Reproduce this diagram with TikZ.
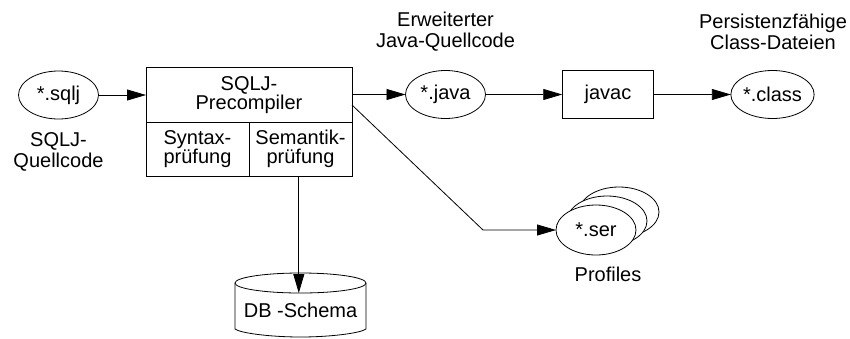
\documentclass[tikz,border=0pt]{standalone}
\usepackage{fontspec}
\setmainfont{Liberation Sans}
\usetikzlibrary{arrows.meta,shapes.geometric}
\tikzset{
  x=1pt,y=-1pt,
  every node/.style={font=\fontsize{20}{19}\selectfont,align=center,inner sep=0pt,outer sep=0pt},
  caption/.style={font=\fontsize{20}{21}\selectfont},
  conn/.style={line width=0.8pt,-{Triangle[length=19pt,width=11pt]}},
  filebubble/.style={ellipse,draw,line width=0.8pt,fill=white,minimum width=80pt,minimum height=48pt},
  stackbubble/.style={filebubble,minimum height=50pt},
  boxcell/.style={rectangle,draw,line width=0.8pt,fill=white},
}
\begin{document}
\begin{tikzpicture}
\useasboundingbox (0,0) rectangle (850,338);
% database cylinder
\draw[line width=0.8pt,fill=white] (235,283) -- (235,329) .. controls (240,333) and (270,337) .. (300.5,337) .. controls (331,337) and (361,333) .. (366,329) -- (366,283);
\draw[line width=0.8pt,fill=white] (300.5,283) ellipse [x radius=65.5,y radius=10];
\node (db) at (300.5,310) {DB -Schema};
\coordinate (dbtop) at (298.8,293);
% boxes
\node[boxcell,minimum width=206pt,minimum height=54.5pt] (pre) at (249,95) {SQLJ-\\Precompiler};
\node[boxcell,minimum width=103pt,minimum height=54pt] (syn) at (197.5,149) {Syntax-\\prüfung};
\node[boxcell,minimum width=103pt,minimum height=54pt] (sem) at (300.5,149) {Semantik-\\prüfung};
\node[boxcell,minimum width=91.5pt,minimum height=47.5pt] (javac) at (608,94.5) {javac};
% file bubbles
\node[filebubble] (sqlj) at (58.5,95) {*.sqlj};
\node[filebubble] (java) at (445.5,94.5) {*.java};
\node[filebubble] (class) at (772.5,94.5) {*.class};
\node[stackbubble] (ser3) at (619,212) {};
\node[stackbubble] (ser2) at (607,221) {};
\node[stackbubble] (ser) at (596,230) {*.ser};
% labels
\node[caption] (lsqlj) at (58.5,152) {SQLJ-\\Quellcode};
\node[caption] (ljava) at (445.5,32) {Erweiterter\\Java-Quellcode};
\node[caption] (lclass) at (773,32) {Persistenzfähige\\Class-Dateien};
\node (lser) at (608,274) {Profiles};
% connectors
\coordinate (bend) at (483,230);
\coordinate (prebr) at (352,105);
\draw[conn] (sqlj) -- (pre.west |- sqlj);
\draw[conn] (pre.east |- java) -- (java);
\draw[conn] (java) -- (javac);
\draw[conn] (javac) -- (class);
\draw[conn] (prebr) -- (bend) -- (ser);
\draw[conn] (sem.south -| dbtop) -- (dbtop);
\end{tikzpicture}
\end{document}
